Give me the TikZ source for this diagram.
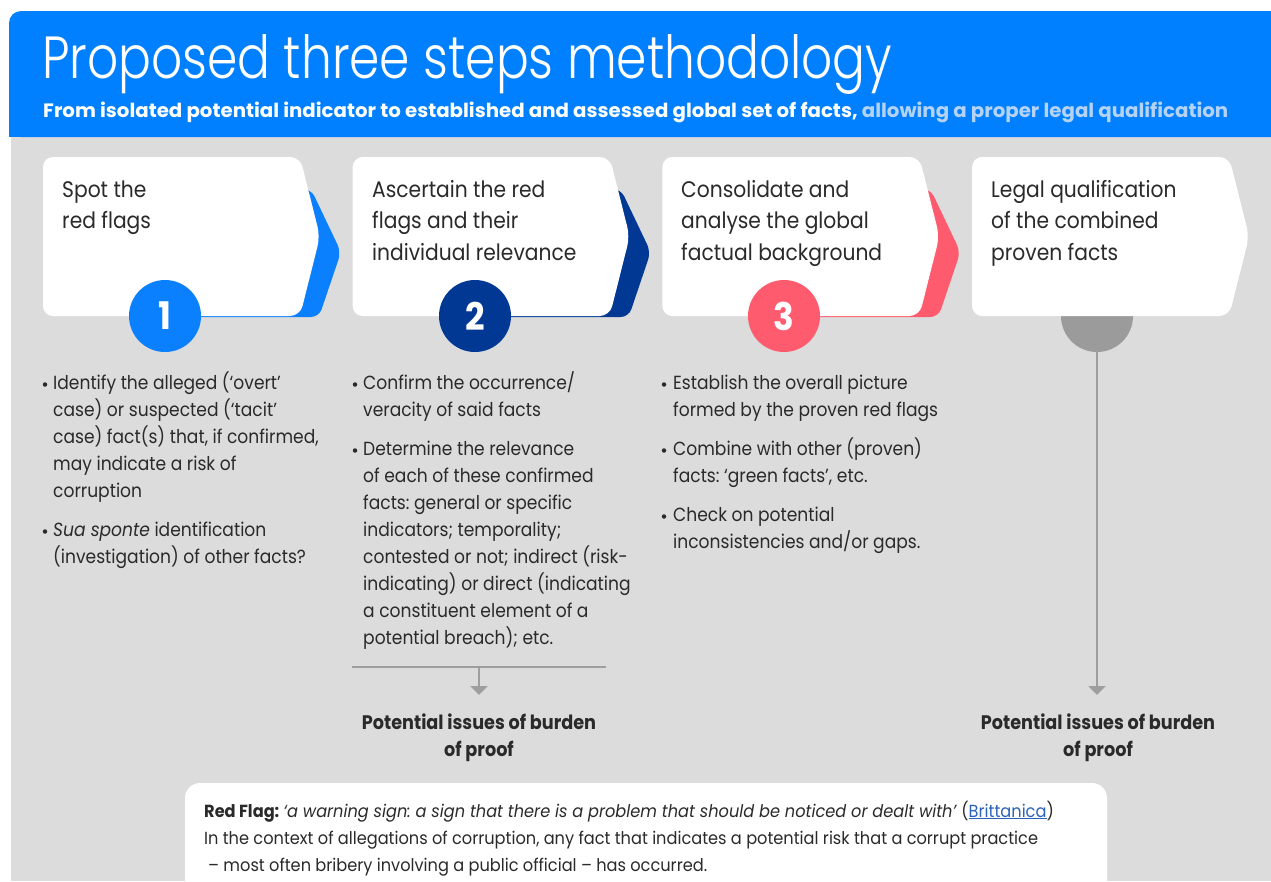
\documentclass[tikz,border=0pt]{standalone}
\usepackage{fontspec}
\setmainfont{Poppins}[FakeStretch=0.9]
\newfontfamily\titlefont{Poppins Light}
\newfontfamily\condfont{Poppins}[FakeStretch=0.925]
\usetikzlibrary{arrows.meta}
\frenchspacing
\definecolor{hdrblue}{HTML}{0080FF}
\definecolor{bggray}{HTML}{DCDCDC}
\definecolor{stepA}{HTML}{0A80FF}
\definecolor{stepB}{HTML}{003894}
\definecolor{stepC}{HTML}{FF5B6E}
\definecolor{stepD}{HTML}{9B9B9B}
\definecolor{ink}{HTML}{2A2A2A}
\definecolor{lightblue}{HTML}{B4D3F7}
\definecolor{linkblue}{HTML}{2A63B8}
\definecolor{linegray}{HTML}{9E9E9E}
\tikzset{
  body/.style={font=\fontsize{19}{27}\selectfont, text=ink, inner sep=0pt, anchor=base west},
  steptitle/.style={font=\fontsize{22.5}{31}\selectfont, text=ink, inner sep=0pt, anchor=base west},
  numcirc/.style={circle, minimum size=72pt, inner sep=0pt, text=white, font=\bfseries\fontsize{38}{38}\selectfont},
  bulletdot/.style={circle, fill=ink, inner sep=0pt, minimum size=4.5pt},
  burden/.style={font=\bfseries\fontsize{19.6}{27}\selectfont, text=ink, inner sep=0pt, anchor=base},
  note/.style={font=\condfont\fontsize{17.5}{27}\selectfont, text=ink, inner sep=0pt, anchor=base west},
  connector/.style={draw=linegray, line width=2pt},
  arrowconn/.style={connector, -{Triangle[width=17pt,length=9pt]}},
  chevron/.style={rounded corners=8pt},
  whitestep/.style={fill=white, rounded corners=10pt}
}
\newcommand\whitebox[1]{\path[whitestep] ({#1+43},157) -- ({#1+300},157) -- ({#1+320},236.5) -- ({#1+300},316) -- ({#1+43},316) -- cycle;}
\newcommand\colchev[2]{\path[chevron, fill=#2] ({#1+165},317) -- ({#1+165},189) -- ({#1+311},189) -- ({#1+341},252) -- ({#1+319},317) -- cycle;}
\newcommand\bodyline[4]{\node[body] (#1) at (#2,#3) {#4};}
\begin{document}
\begin{tikzpicture}[x=1pt,y=-1pt]
\useasboundingbox (0,0) rectangle (1271,881);
\clip (0,0) rectangle (1271,881);
% backgrounds
\fill[white] (0,0) rectangle (1271,881);
\fill[bggray] (11,137) rectangle (1271,881);
\fill[hdrblue, rounded corners=12pt] (9,11) -- (1300,11) -- (1300,137) -- (9,137) -- cycle;
\fill[hdrblue] (9,60) rectangle (1271,137);
% header texts
\node[anchor=base west, inner sep=0pt, text=white] (title) at (42,78) {\resizebox{850pt}{44pt}{\titlefont Proposed three steps methodology}};
\node[anchor=base west, inner sep=0pt] (subtitle) at (43,117) {\resizebox{1185pt}{15.5pt}{\bfseries\fontsize{20}{20}\selectfont\textcolor{white}{From isolated potential indicator to established and assessed global set of facts,} \textcolor{lightblue}{allowing a proper legal qualification}}};
% step boxes
\colchev{0}{stepA}
\whitebox{0}
\node[numcirc, fill=stepA] (n1) at (165,316) {1};
\colchev{309.7}{stepB}
\whitebox{309.7}
\node[numcirc, fill=stepB] (n2) at (475,316) {2};
\colchev{619.4}{stepC}
\whitebox{619.4}
\node[numcirc, fill=stepC] (n3) at (784,316) {3};
\node[numcirc, fill=stepD] (n4) at (1097,316) {};
\whitebox{929.1}
% step titles
\node[steptitle] (s1a) at (62,197) {Spot the};
\node[steptitle] (s1b) at (62,228.5) {red flags};
\node[steptitle] (s2a) at (372,197) {Ascertain the red};
\node[steptitle] (s2b) at (372,228.5) {flags and their};
\node[steptitle] (s2c) at (372,260) {individual relevance};
\node[steptitle] (s3a) at (681,197) {Consolidate and};
\node[steptitle] (s3b) at (681,228.5) {analyse the global};
\node[steptitle] (s3c) at (681,260) {factual background};
\node[steptitle] (s4a) at (991,197) {Legal qualification};
\node[steptitle] (s4b) at (991,228.5) {of the combined};
\node[steptitle] (s4c) at (991,260) {proven facts};
% column 1
\node[bulletdot] (b1a) at (45,384.5) {};
\bodyline{c1a}{53}{389}{Identify the alleged (‘overt’}
\bodyline{c1b}{53}{416}{case) or suspected (‘tacit’}
\bodyline{c1c}{53}{443}{case) fact(s) that, if confirmed,}
\bodyline{c1d}{53}{470}{may indicate a risk of}
\bodyline{c1e}{53}{497}{corruption}
\node[bulletdot] (b1b) at (45,531.5) {};
\bodyline{c1f}{53}{536}{\textit{Sua sponte} identification}
\bodyline{c1g}{53}{563}{(investigation) of other facts?}
% column 2
\node[bulletdot] (b2a) at (355,384.5) {};
\bodyline{c2a}{363}{389}{Confirm the occurrence/}
\bodyline{c2b}{363}{416}{veracity of said facts}
\node[bulletdot] (b2b) at (355,450.5) {};
\bodyline{c2c}{363}{455}{Determine the relevance}
\bodyline{c2d}{363}{482}{of each of these confirmed}
\bodyline{c2e}{363}{509}{facts: general or specific}
\bodyline{c2f}{363}{536}{indicators; temporality;}
\bodyline{c2g}{363}{563}{contested or not; indirect (risk-}
\bodyline{c2h}{363}{590}{indicating) or direct (indicating}
\bodyline{c2i}{363}{617}{a constituent element of a}
\bodyline{c2j}{363}{644}{potential breach); etc.}
% column 3
\node[bulletdot] (b3a) at (664,384.5) {};
\bodyline{c3a}{673}{389}{Establish the overall picture}
\bodyline{c3b}{673}{416}{formed by the proven red flags}
\node[bulletdot] (b3b) at (664,450.5) {};
\bodyline{c3c}{673}{455}{Combine with other (proven)}
\bodyline{c3d}{673}{482}{facts: ‘green facts’, etc.}
\node[bulletdot] (b3c) at (664,516.5) {};
\bodyline{c3e}{673}{521}{Check on potential}
\bodyline{c3f}{673}{548}{inconsistencies and/or gaps.}
% connectors
\coordinate (sepL) at (352,667);
\coordinate (sepR) at (606,667);
\coordinate (sepM) at (479,667);
\coordinate (tip2) at (479,695);
\coordinate (tip4) at (1097,695);
\draw[connector] (sepL) -- (sepR);
\draw[arrowconn] (sepM) -- (tip2);
\draw[arrowconn] (n4.south) -- (tip4);
% burden of proof texts
\node[burden] (p2a) at (479,729) {Potential issues of burden};
\node[burden] (p2b) at (479,756) {of proof};
\node[burden] (p4a) at (1098,729) {Potential issues of burden};
\node[burden] (p4b) at (1098,756) {of proof};
% note box
\fill[white, rounded corners=15pt] (185,783) rectangle (1107,920);
\node[note] (r1) at (204,817) {\textbf{Red Flag:} \textit{‘a warning sign: a sign that there is a problem that should be noticed or dealt with’} (\textcolor{linkblue}{\underline{Brittanica}})};
\node[note] (r2) at (204,844) {In the context of allegations of corruption, any fact that indicates a potential risk that a corrupt practice};
\node[note] (r3) at (208,871) {– most often bribery involving a public official – has occurred.};
\end{tikzpicture}
\end{document}
